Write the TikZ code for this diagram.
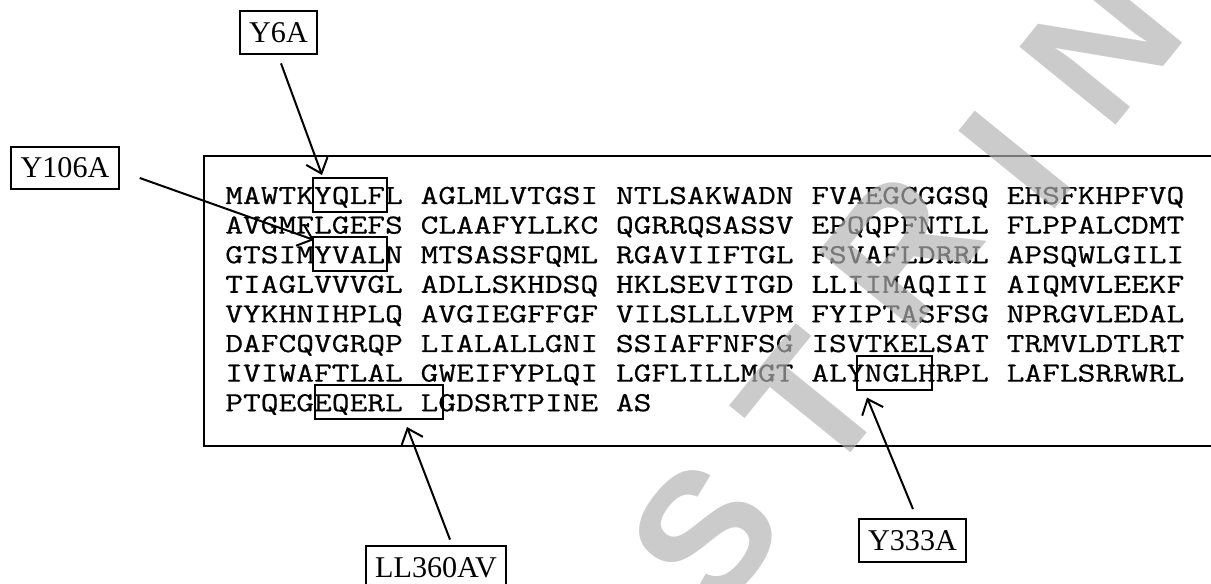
\documentclass[tikz,border=0pt]{standalone}
\usepackage{fontspec}
\setmainfont{Liberation Serif}
\setmonofont{Latin Modern Mono}[FakeStretch=1.25,FakeBold=0.6,WordSpace={1,0,0}]
\newfontfamily\wmfont{Liberation Sans}
\usetikzlibrary{arrows.meta,fit,calc}
\begin{document}
\begin{tikzpicture}[x=0.75pt,y=-0.75pt,
  lbl/.style={draw, line width=1.6pt, font=\fontsize{22.6pt}{24pt}\selectfont,
    inner xsep=7pt, inner ysep=0pt, minimum height=32pt, text height=15pt, text depth=0pt},
  hl/.style={draw, line width=1.5pt, inner sep=0pt},
  frame/.style={draw, line width=1.8pt, inner sep=0pt},
  seq/.style={anchor=base west, inner sep=0pt, font=\ttfamily\fontsize{20.69pt}{24pt}\selectfont},
  arr/.style={line width=1.5pt, -{Straight Barb[length=10pt,width=17pt,line width=1.5pt]}},
  wm/.style={inner sep=0pt, text=black!30, text opacity=0.67, rotate=51,
    font=\wmfont\bfseries\fontsize{135pt}{135pt}\selectfont}
]
\useasboundingbox (0,0) rectangle (1211,584);
\clip (0,0) rectangle (1211,584);

% sequence frame
\node[frame, fit={(204,156) (1230,446)}] (seqframe) {};

% sequence rows
\node[seq] (r1) at (225,204.0) {MAWTKYQLFL AGLMLVTGSI NTLSAKWADN FVAEGCGGSQ EHSFKHPFVQ};
\node[seq] (r2) at (225,233.6) {AVGMFLGEFS CLAAFYLLKC QGRRQSASSV EPQQPFNTLL FLPPALCDMT};
\node[seq] (r3) at (225,263.2) {GTSIMYVALN MTSASSFQML RGAVIIFTGL FSVAFLDRRL APSQWLGILI};
\node[seq] (r4) at (225,292.8) {TIAGLVVVGL ADLLSKHDSQ HKLSEVITGD LLIIMAQIII AIQMVLEEKF};
\node[seq] (r5) at (225,322.4) {VYKHNIHPLQ AVGIEGFFGF VILSLLLVPM FYIPTASFSG NPRGVLEDAL};
\node[seq] (r6) at (225,352.0) {DAFCQVGRQP LIALALLGNI SSIAFFNFSG ISVTKELSAT TRMVLDTLRT};
\node[seq] (r7) at (225,381.6) {IVIWAFTLAL GWEIFYPLQI LGFLILLMGT ALYNGLHRPL LAFLSRRWRL};
\node[seq] (r8) at (225,411.2) {PTQEGEQERL LGDSRTPINE AS};

% highlight boxes
\node[hl, fit={(313,178) (387,212)}] (yqlf) {};
\node[hl, fit={(313,237) (387,271)}] (yval) {};
\node[hl, fit={(857,355.6) (932,389.6)}] (yngl) {};
\node[hl, fit={(315,385) (443,419)}] (eqerl) {};

% labels
\node[lbl] (y6a) at (278.5,32.5) {Y6A};
\node[lbl] (y106a) at (65,168) {Y106A};
\node[lbl] (y333a) at (912.5,540.5) {Y333A};
\node[lbl] (ll360) at (436,567) {LL360AV};

% arrows
\coordinate (s1) at ($(y6a.south)+(2.5,8.5)$);
\coordinate (s2) at ($(y106a.east)+(20,10)$);
\coordinate (s3) at ($(ll360.north)+(14,-5)$);
\coordinate (s4) at ($(y333a.north)+(0.5,-9)$);
\draw[arr] (s1) -- ($(yqlf.north west)+(10,-2)$);
\draw[arr] (s2) -- ($(yval.north west)+(2,4)$);
\draw[arr] (s3) -- ($(eqerl.south west)+(93,7)$);
\draw[arr] (s4) -- ($(yngl.south west)+(11,7)$);

% watermark (letter-spaced)
\node[wm] (wS) at (705,535) {S};
\node[wm] (wT) at (811,404) {T};
\node[wm] (wR) at (900,250) {R};
\node[wm] (wI) at (1015,160) {I};
\node[wm] (wN) at (1101,45) {N};
\end{tikzpicture}
\end{document}
